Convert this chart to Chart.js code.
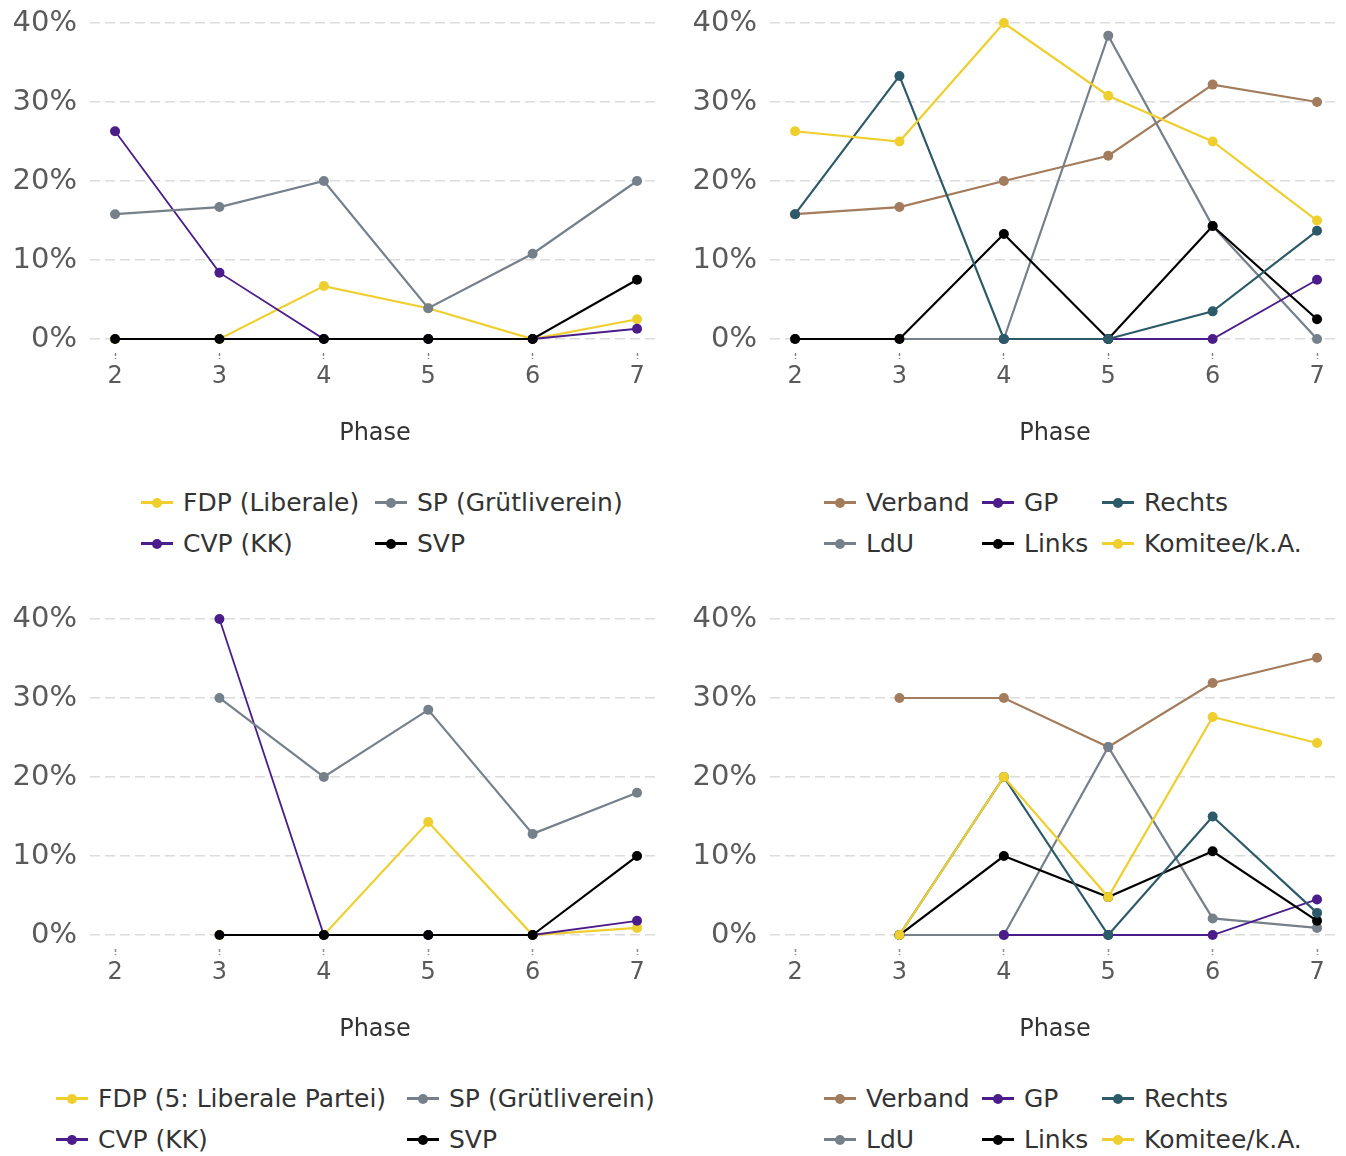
<!DOCTYPE html>
<html>
<head>
<meta charset="utf-8">
<script src="https://cdn.jsdelivr.net/npm/chart.js@4.4.1/dist/chart.umd.min.js"></script>
<style>
  body { margin: 0; background: #fff; font-family: "DejaVu Sans", sans-serif; }
  #wrap { position: relative; width: 1346px; height: 1156px; }
  .panel { position: absolute; width: 673px; height: 460px; }
  .legend { position: absolute; display: grid; row-gap: 12px; font-size: 25px; color: #333; }
  .item { display: flex; align-items: center; white-space: nowrap; height: 29px; }
  .sym { position: relative; width: 32px; height: 29px; margin-right: 10px; flex: none; }
  .sym i { position: absolute; left: 0; right: 0; top: 13px; height: 2.5px; }
  .sym b { position: absolute; left: 11px; top: 9.5px; width: 10px; height: 10px; border-radius: 50%; }
</style>
</head>
<body>
<div id="wrap">
  <div class="panel" style="left:0;top:0"><canvas id="c1"></canvas></div>
  <div class="panel" style="left:673px;top:0"><canvas id="c2"></canvas></div>
  <div class="panel" style="left:0;top:596px"><canvas id="c3"></canvas></div>
  <div class="panel" style="left:673px;top:596px"><canvas id="c4"></canvas></div>
  <div class="legend" id="l1" style="left:141px;top:488px;grid-template-columns:234px auto"></div>
  <div class="legend" id="l2" style="left:824px;top:488px;grid-template-columns:158px 120px auto"></div>
  <div class="legend" id="l3" style="left:56px;top:1084px;grid-template-columns:351px auto"></div>
  <div class="legend" id="l4" style="left:824px;top:1084px;grid-template-columns:158px 120px auto"></div>
</div>
<script>
const phases = [2, 3, 4, 5, 6, 7];
const yTicks = [0, 10, 20, 30, 40];

// colours
const cYellow = '#efcf2e';
const cGrey = '#76808b';
const cPurple = '#4a1d8a';
const cBlack = '#000000';
const cBrown = '#a27c5c';
const cTeal = '#2c5a68';

// panel 1 (top left): parties
const p1Names = ['FDP (Liberale)', 'CVP (KK)', 'SP (Grütliverein)', 'SVP'];
const p1FDP = [0, 0, 6.7, 3.9, 0, 2.5];
const p1CVP = [26.3, 8.4, 0, 0, 0, 1.3];
const p1SP = [15.8, 16.7, 20, 3.9, 10.8, 20];
const p1SVP = [0, 0, 0, 0, 0, 7.5];

// panel 2 (top right): other actors
const p2Names = ['Verband', 'LdU', 'GP', 'Links', 'Rechts', 'Komitee/k.A.'];
const p2Verband = [15.8, 16.7, 20, 23.2, 32.2, 30];
const p2LdU = [0, 0, 0, 38.4, 14.3, 0];
const p2GP = [null, null, 0, 0, 0, 7.5];
const p2Links = [0, 0, 13.3, 0, 14.3, 2.5];
const p2Rechts = [15.8, 33.3, 0, 0, 3.5, 13.7];
const p2Komitee = [26.3, 25, 40, 30.8, 25, 15];

// panel 3 (bottom left): parties
const p3Names = ['FDP (5: Liberale Partei)', 'CVP (KK)', 'SP (Grütliverein)', 'SVP'];
const p3FDP = [null, 0, 0, 14.3, 0, 0.9];
const p3CVP = [null, 40, 0, 0, 0, 1.8];
const p3SP = [null, 30, 20, 28.5, 12.8, 18];
const p3SVP = [null, 0, 0, 0, 0, 10];

// panel 4 (bottom right): other actors
const p4Names = ['Verband', 'LdU', 'GP', 'Links', 'Rechts', 'Komitee/k.A.'];
const p4Verband = [null, 30, 30, 23.8, 31.9, 35.1];
const p4LdU = [null, 0, 0, 23.8, 2.1, 0.9];
const p4GP = [null, null, 0, 0, 0, 4.5];
const p4Links = [null, 0, 10, 4.8, 10.6, 1.8];
const p4Rechts = [null, 0, 20, 0, 15, 2.8];
const p4Komitee = [null, 0, 20, 4.8, 27.6, 24.3];

const partyColors = [cYellow, cPurple, cGrey, cBlack];
const actorColors = [cBrown, cGrey, cPurple, cBlack, cTeal, cYellow];

function makeChart(id, names, series, colors, axisWidth, padRight) {
    const n = series.length;
    const datasets = series.map((vals, i) => ({
        label: names[i],
        data: vals.map((v, k) => ({ x: phases[k], y: v })),
        borderColor: colors[i],
        backgroundColor: colors[i],
        borderWidth: colors[i] === cPurple ? 1.8 : 2.2,
        pointRadius: 5,
        pointHoverRadius: 5,
        pointBorderWidth: 0,
        spanGaps: false,
        clip: false,
        order: n - i,
    }));

    return new Chart(document.getElementById(id), {
        type: 'line',
        data: { datasets: datasets },
        options: {
            responsive: false,
            animation: false,
            layout: { padding: { left: 0, right: padRight, top: 6, bottom: 0 } },
            plugins: { legend: { display: false }, tooltip: { enabled: false } },
            scales: {
                x: {
                    type: 'linear',
                    min: 1.76,
                    max: 7.22,
                    afterBuildTicks: axis => { axis.ticks = phases.map(v => ({ value: v })); },
                    afterFit: axis => { axis.height = 107; axis.paddingLeft = 0; axis.paddingRight = 0; },
                    border: { display: false },
                    grid: {
                        drawOnChartArea: false,
                        drawTicks: true,
                        tickLength: 6,
                        tickWidth: 1.5,
                        tickColor: '#8a8a8a',
                        tickBorderDash: [3, 2],
                    },
                    ticks: {
                        color: '#5a5a5a',
                        padding: 3,
                        font: { family: 'DejaVu Sans', size: 24 },
                        callback: v => v,
                    },
                    title: {
                        display: true,
                        text: 'Phase',
                        color: '#333',
                        font: { family: 'DejaVu Sans', size: 24 },
                        padding: { top: 0, bottom: 12 },
                    },
                },
                y: {
                    min: -1.77,
                    max: 42.15,
                    afterBuildTicks: axis => { axis.ticks = yTicks.map(v => ({ value: v })); },
                    afterFit: axis => { axis.width = axisWidth; axis.paddingTop = 0; axis.paddingBottom = 0; },
                    border: { display: false, dash: [10, 5] },
                    grid: {
                        color: '#dcdcdc',
                        lineWidth: 1.5,
                        drawTicks: false,
                    },
                    ticks: {
                        color: '#5a5a5a',
                        padding: 13,
                        font: { family: 'DejaVu Sans', size: 29 },
                        callback: v => v + '%',
                    },
                },
            },
        },
    });
}

function makeLegend(id, names, colors, rows) {
    // ggplot-style column-wise fill
    const el = document.getElementById(id);
    const cols = Math.ceil(names.length / rows);
    for (let r = 0; r < rows; r++) {
        for (let c = 0; c < cols; c++) {
            const i = c * rows + r;
            const item = document.createElement('div');
            item.className = 'item';
            if (i < names.length) {
                item.innerHTML = '<span class="sym"><i style="background:' + colors[i] + '"></i><b style="background:' +
                    colors[i] + '"></b></span><span>' + names[i] + '</span>';
            }
            el.appendChild(item);
        }
    }
}

function sizeCanvas(id) {
    const c = document.getElementById(id);
    c.width = 673;
    c.height = 460;
    c.style.width = '673px';
    c.style.height = '460px';
}
['c1', 'c2', 'c3', 'c4'].forEach(sizeCanvas);

makeChart('c1', p1Names, [p1FDP, p1CVP, p1SP, p1SVP], partyColors, 90, 13);
makeChart('c2', p2Names, [p2Verband, p2LdU, p2GP, p2Links, p2Rechts, p2Komitee], actorColors, 97, 6);
makeChart('c3', p3Names, [p3FDP, p3CVP, p3SP, p3SVP], partyColors, 90, 13);
makeChart('c4', p4Names, [p4Verband, p4LdU, p4GP, p4Links, p4Rechts, p4Komitee], actorColors, 97, 6);

makeLegend('l1', p1Names, partyColors, 2);
makeLegend('l2', p2Names, actorColors, 2);
makeLegend('l3', p3Names, partyColors, 2);
makeLegend('l4', p4Names, actorColors, 2);
</script>
</body>
</html>
